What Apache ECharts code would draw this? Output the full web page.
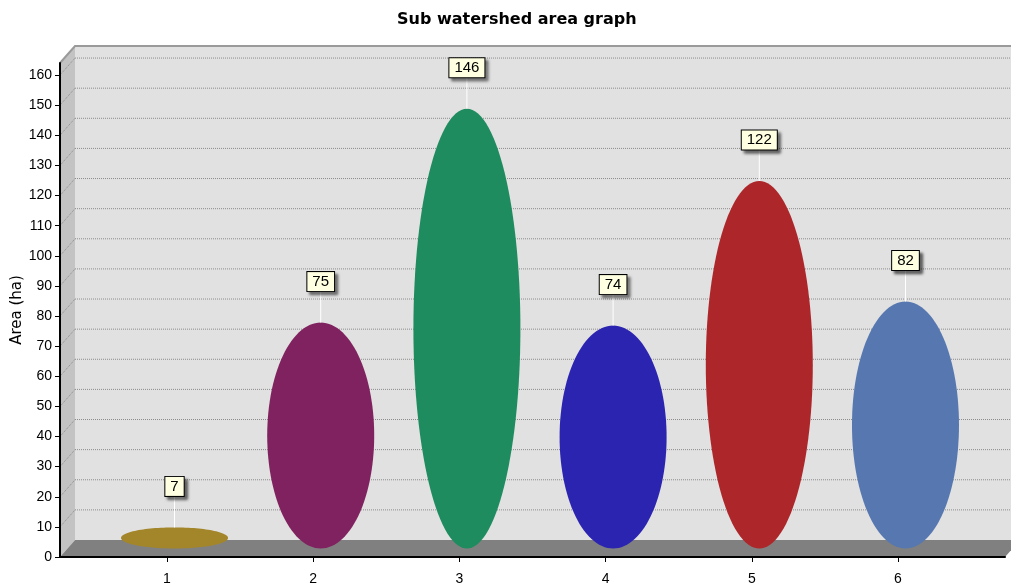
<!DOCTYPE html>
<html>
<head>
<meta charset="utf-8">
<title>Sub watershed area graph</title>
<script src="https://cdn.jsdelivr.net/npm/echarts@6/dist/echarts.min.js"></script>
<style>
  html, body { margin: 0; padding: 0; background: #ffffff; }
  #chart { width: 1011px; height: 585px; }
</style>
</head>
<body>
<div id="chart"></div>
<script>
// Sub watershed areas (ha)
const categories = ['1', '2', '3', '4', '5', '6'];
const areas = [7, 75, 146, 74, 122, 82];
const ellipseColors = ['#a3852a', '#80225f', '#1e8c5e', '#2b24b0', '#ad262a', '#5677b0'];
const yTickValues = [0, 10, 20, 30, 40, 50, 60, 70, 80, 90, 100, 110, 120, 130, 140, 150, 160];

// Axis extents and the pseudo-3D depth of the box (in pixels)
const X_MIN = 0.268, X_MAX = 6.732;
const Y_MIN = 0, Y_MAX = 164;
const DEPTH_X = 15, DEPTH_Y = 17;
const FONT = '"Liberation Sans", Arial, sans-serif';
const TITLE_FONT = '"DejaVu Sans", sans-serif';

const xPositions = categories.map((c, i) => i + 1);
const ellipseData = areas.map((v, i) => [xPositions[i], v, i]);

// Back wall, left wall, floor and dotted grid lines
function renderFrame(params, api) {
  const x0 = api.coord([X_MIN, Y_MIN])[0];
  const xR = api.coord([X_MAX, Y_MIN])[0];
  const y0 = api.coord([X_MIN, Y_MIN])[1];
  const yTop = api.coord([X_MIN, Y_MAX])[1];
  const children = [
    { type: 'rect', shape: { x: x0 + DEPTH_X, y: yTop - DEPTH_Y, width: xR - x0, height: y0 - yTop },
      style: { fill: '#e1e1e1' } },
    { type: 'polygon', shape: { points: [[x0, y0], [x0 + DEPTH_X, y0 - DEPTH_Y], [x0 + DEPTH_X, yTop - DEPTH_Y], [x0, yTop]] },
      style: { fill: '#c3c3c3' } },
    { type: 'polygon', shape: { points: [[x0, y0], [xR, y0], [xR + DEPTH_X, y0 - DEPTH_Y], [x0 + DEPTH_X, y0 - DEPTH_Y]] },
      style: { fill: '#808080' } },
    { type: 'polyline', shape: { points: [[x0, yTop], [x0 + DEPTH_X, yTop - DEPTH_Y], [xR + DEPTH_X, yTop - DEPTH_Y]] },
      style: { stroke: '#9a9a9a', lineWidth: 2, fill: null } }
  ];
  yTickValues.forEach(v => {
    if (v === 0) return;
    const y = api.coord([X_MIN, v])[1];
    children.push({ type: 'line', shape: { x1: x0 + DEPTH_X, y1: y - DEPTH_Y, x2: xR + DEPTH_X, y2: y - DEPTH_Y },
      style: { stroke: '#8c8c8c', lineWidth: 1, lineDash: [1, 1] } });
    children.push({ type: 'line', shape: { x1: x0, y1: y, x2: x0 + DEPTH_X, y2: y - DEPTH_Y },
      style: { stroke: '#8c8c8c', lineWidth: 1, lineDash: [1, 1] } });
  });
  return { type: 'group', children };
}

// Each area is an ellipse standing at mid depth, with a callout box above it
function renderEllipse(params, api) {
  const xv = api.value(0), v = api.value(1), idx = api.value(2);
  const topPt = api.coord([xv, v]);
  const basePt = api.coord([xv, 0]);
  const cx = topPt[0] + DEPTH_X / 2;
  const top = topPt[1] - DEPTH_Y / 2;
  const bottom = basePt[1] - DEPTH_Y / 2;
  const ry = (bottom - top) / 2;
  const cy = top + ry;
  const rx = api.size([1, 0])[0] * 0.366;
  const pts = [];
  const N = 120;
  for (let k = 0; k < N; k++) {
    const a = (k / N) * Math.PI * 2;
    pts.push([cx + rx * Math.cos(a), cy + ry * Math.sin(a)]);
  }
  return {
    type: 'group',
    children: [
      { type: 'polygon', shape: { points: pts }, style: { fill: ellipseColors[idx] } },
      { type: 'line', shape: { x1: cx, y1: top, x2: cx, y2: top - 31 },
        style: { stroke: '#ffffff', lineWidth: 1 } },
      { type: 'text', x: cx, y: top - 41,
        style: {
          text: String(areas[idx]),
          font: '15px ' + FONT,
          fill: '#000000',
          align: 'center',
          verticalAlign: 'middle',
          backgroundColor: '#ffffe1',
          borderColor: '#000000',
          borderWidth: 1,
          padding: [2, 5, 2, 5],
          shadowColor: 'rgba(0,0,0,0.55)',
          shadowBlur: 3,
          shadowOffsetX: 3,
          shadowOffsetY: 3
        } }
    ]
  };
}

const chart = echarts.init(document.getElementById('chart'), null, { renderer: 'canvas' });
chart.setOption({
  animation: false,
  backgroundColor: '#ffffff',
  title: {
    text: 'Sub watershed area graph',
    left: 397,
    top: 12,
    padding: 0,
    textStyle: { fontFamily: TITLE_FONT, fontSize: 16, fontWeight: 'bold', color: '#000000' }
  },
  grid: { left: 60, right: 6, top: 63, bottom: 28, outerBoundsMode: 'none', containLabel: false },
  xAxis: {
    type: 'value',
    min: X_MIN,
    max: X_MAX,
    axisLine: { show: true, lineStyle: { color: '#000000', width: 2 } },
    axisTick: { show: true, length: 5, customValues: xPositions, lineStyle: { color: '#000000' } },
    axisLabel: {
      customValues: xPositions,
      formatter: v => categories[Math.round(v) - 1],
      margin: 15,
      fontFamily: FONT,
      fontSize: 14,
      color: '#000000'
    },
    splitLine: { show: false }
  },
  yAxis: {
    type: 'value',
    min: Y_MIN,
    max: Y_MAX,
    name: 'Area (ha)',
    nameLocation: 'middle',
    nameGap: 35,
    nameMoveOverlap: false,
    nameTextStyle: { fontFamily: TITLE_FONT, fontSize: 15, color: '#000000' },
    axisLine: { show: true, lineStyle: { color: '#000000', width: 2 } },
    axisTick: { show: true, length: 5, customValues: yTickValues, lineStyle: { color: '#000000' } },
    axisLabel: {
      customValues: yTickValues,
      margin: 8,
      fontFamily: FONT,
      fontSize: 14,
      color: '#000000'
    },
    splitLine: { show: false }
  },
  series: [
    {
      type: 'custom',
      z: -5,
      silent: true,
      renderItem: renderFrame,
      data: [[0, 0]]
    },
    {
      type: 'custom',
      z: 5,
      renderItem: renderEllipse,
      encode: { x: 0, y: 1 },
      data: ellipseData
    }
  ]
});
</script>
</body>
</html>
